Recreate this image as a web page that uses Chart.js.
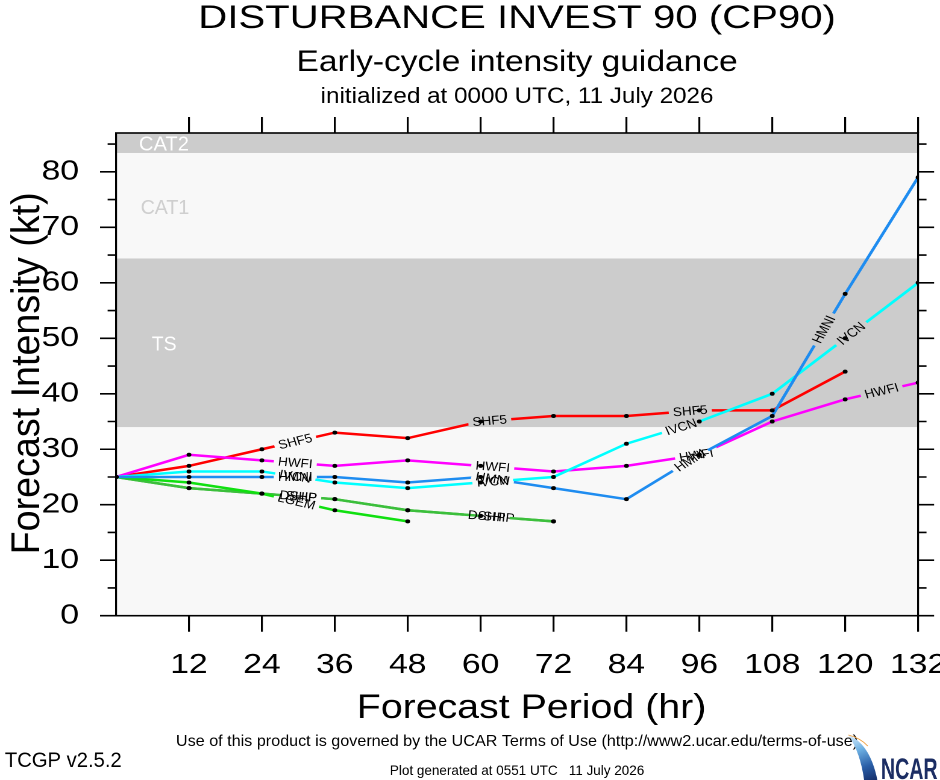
<!DOCTYPE html>
<html><head><meta charset="utf-8">
<script src="https://cdn.jsdelivr.net/npm/chart.js@4/dist/chart.umd.min.js"></script>
<style>
html,body{margin:0;padding:0;background:#fff;overflow:hidden}
#wrap{width:780px;height:780px;transform:scaleX(1.205128);transform-origin:0 0;}
canvas{display:block}
</style></head><body>
<div id="wrap"><canvas id="c" width="780" height="780"></canvas></div>
<script>
// ---------------- DATA ----------------
const hours = [0, 12, 24, 36, 48, 60, 72, 84, 96, 108, 120, 132];
const SHF5 = [25, 27, 30, 33, 32, 35, 36, 36, 37, 37, 44, null];
const HWFI = [25, 29, 28, 27, 28, 27, 26, 27, 29, 35, 39, 42];
const IVCN = [25, 26, 26, 24, 23, 24, 25, 31, 35, 40, 50, 60];
const HMNI = [25, 25, 25, 25, 24, 25, 23, 21, 29, 36, 58, 79];
const DSHP = [25, 23, 22, 21, 19, 18, 17, null, null, null, null, null];
const SHIP = [25, 23, 22, 21, 19, 18, 17, null, null, null, null, null];
const LGEM = [25, 24, 22, 19, 17, null, null, null, null, null, null, null];
// forecast hours where each model's name is written along its line
const SHF5_labelHrs = [29.5, 61.5, 94.5];
const HWFI_labelHrs = [29.5, 62, 95.5, 126];
const IVCN_labelHrs = [29.5, 62, 93, 121];
const HMNI_labelHrs = [29.5, 62, 94.5, 116.5];
const DSHP_labelHrs = [30, 61];
const SHIP_labelHrs = [30.5, 63];
const LGEM_labelHrs = [29.7];
const xTickLabels = [12, 24, 36, 48, 60, 72, 84, 96, 108, 120, 132];
const yTickLabels = [0, 10, 20, 30, 40, 50, 60, 70, 80];
const yMinorTicks = [5, 15, 25, 35, 45, 55, 65, 75, 85];
const TS_MIN = 34, CAT1_MIN = 64.4, CAT2_MIN = 83.4;
const TITLE = 'DISTURBANCE INVEST 90 (CP90)';
const SUBTITLE = 'Early-cycle intensity guidance';
const INIT_LINE = 'initialized at 0000 UTC, 11 July 2026';
const X_TITLE = 'Forecast Period (hr)';
const Y_TITLE = 'Forecast Intensity (kt)';

// ---------------- STYLE ----------------
const FONT = '"Liberation Sans", Arial, Helvetica, sans-serif';
const NARROW = '"Liberation Sans Narrow", "Arial Narrow", "Liberation Sans", sans-serif';
const series = [
  {name:'SHIP', values:SHIP, color:'#3cbf3c', labels:SHIP_labelHrs, order:7},
  {name:'DSHP', values:DSHP, color:'#3cbf3c', labels:DSHP_labelHrs, order:6},
  {name:'LGEM', values:LGEM, color:'#10e010', labels:LGEM_labelHrs, order:5},
  {name:'SHF5', values:SHF5, color:'#ff0000', labels:SHF5_labelHrs, order:4},
  {name:'HWFI', values:HWFI, color:'#ff00ff', labels:HWFI_labelHrs, order:3},
  {name:'IVCN', values:IVCN, color:'#00ffff', labels:IVCN_labelHrs, order:2},
  {name:'HMNI', values:HMNI, color:'#1e8cf0', labels:HMNI_labelHrs, order:1},
];
const toXY = vals => hours.map((h, i) => ({x: h, y: vals[i]})).filter(p => p.y !== null);

const datasets = [];
series.forEach((s, i) => {
  datasets.push({type:'line', label:s.name, data:toXY(s.values), borderColor:s.color,
    borderWidth:2.5, pointRadius:0, tension:0, fill:false, order:s.order,
    _series:i, _kind:'line'});
});
series.forEach((s, i) => {
  datasets.push({type:'line', label:s.name + ' pts', data:toXY(s.values), showLine:false,
    pointRadius:2, pointBackgroundColor:'#000', pointBorderWidth:0, order:0, _kind:'pts'});
});

const LABEL_SIZE = 12.5, LABEL_SX = 0.9;
function labelGeom(chart, s, h) {
  const xs = chart.scales.x, ys = chart.scales.y;
  for (let i = 0; i < hours.length - 1; i++) {
    const a = s.values[i], b = s.values[i + 1];
    if (a == null || b == null) continue;
    if (h >= hours[i] && h <= hours[i + 1]) {
      const t = (h - hours[i]) / (hours[i + 1] - hours[i]);
      const x0 = xs.getPixelForValue(hours[i]), y0 = ys.getPixelForValue(a);
      const x1 = xs.getPixelForValue(hours[i + 1]), y1 = ys.getPixelForValue(b);
      return {x: x0 + (x1 - x0) * t, y: y0 + (y1 - y0) * t, ang: Math.atan2(y1 - y0, x1 - x0)};
    }
  }
  return null;
}

function fitText(ctx, text, x, y, size, width, align, family, color, weight) {
  ctx.save();
  ctx.font = (weight ? weight + ' ' : '') + size + 'px ' + family;
  ctx.fillStyle = color || '#000';
  const w = ctx.measureText(text).width;
  ctx.translate(x, y);
  ctx.scale(width / w, 1);
  ctx.textAlign = align;
  ctx.textBaseline = 'alphabetic';
  ctx.fillText(text, 0, 0);
  ctx.restore();
}

const lineLabels = {
  id: 'lineLabels',
  beforeDatasetDraw(chart, args) {
    const ds = chart.data.datasets[args.index];
    if (ds._kind !== 'line') return;
    const s = series[ds._series];
    const ctx = chart.ctx;
    ctx.save();
    ctx.font = LABEL_SIZE + 'px ' + FONT;
    const hw = ctx.measureText(s.name).width * LABEL_SX / 2 + 3.5, hh = 7;
    ctx.beginPath();
    ctx.rect(0, 0, chart.width, chart.height);
    s.labels.forEach(h => {
      const g = labelGeom(chart, s, h);
      if (!g) return;
      const c = Math.cos(g.ang), sn = Math.sin(g.ang);
      const pts = [[-hw, -hh], [hw, -hh], [hw, hh], [-hw, hh]].map(([u, v]) => [g.x + u * c - v * sn, g.y + u * sn + v * c]);
      ctx.moveTo(pts[0][0], pts[0][1]);
      for (let k = 1; k < 4; k++) ctx.lineTo(pts[k][0], pts[k][1]);
      ctx.closePath();
    });
    ctx.clip('evenodd');
  },
  afterDatasetDraw(chart, args) {
    const ds = chart.data.datasets[args.index];
    if (ds._kind !== 'line') return;
    const ctx = chart.ctx;
    ctx.restore();
    const s = series[ds._series];
    ctx.save();
    ctx.font = LABEL_SIZE + 'px ' + FONT;
    ctx.fillStyle = '#000';
    ctx.textAlign = 'center';
    ctx.textBaseline = 'middle';
    s.labels.forEach(h => {
      const g = labelGeom(chart, s, h);
      if (!g) return;
      ctx.save();
      ctx.translate(g.x, g.y);
      ctx.rotate(g.ang);
      ctx.scale(LABEL_SX, 1);
      ctx.fillText(s.name, 0, 0.5);
      ctx.restore();
    });
    ctx.restore();
  }
};

const bandsAndFrame = {
  id: 'bandsAndFrame',
  beforeDatasetsDraw(chart) {
    const {ctx, chartArea: a} = chart;
    const ys = chart.scales.y;
    const band = (lo, hi, col) => {
      const y1 = ys.getPixelForValue(Math.min(hi, ys.max)), y0 = ys.getPixelForValue(lo);
      ctx.fillStyle = col;
      ctx.fillRect(a.left, y1, a.right - a.left, y0 - y1);
    };
    ctx.save();
    band(ys.min, TS_MIN, '#f8f8f8');
    band(TS_MIN, CAT1_MIN, '#cccccc');
    band(CAT1_MIN, CAT2_MIN, '#f8f8f8');
    band(CAT2_MIN, ys.max, '#cccccc');
    fitText(ctx, 'CAT2', a.left + 19, 150.7, 20, 41.5, 'left', NARROW, '#ffffff');
    fitText(ctx, 'CAT1', a.left + 20.4, 214, 20, 40.3, 'left', NARROW, '#cfcfcf');
    fitText(ctx, 'TS', a.left + 29.6, 350.7, 20, 20.7, 'left', NARROW, '#ffffff');
    ctx.restore();
  },
  afterDraw(chart) {
    const {ctx, chartArea: a} = chart;
    const xs = chart.scales.x, ys = chart.scales.y;
    ctx.save();
    ctx.strokeStyle = '#000';
    ctx.lineWidth = 1.6;
    ctx.strokeRect(a.left, a.top, a.right - a.left, a.bottom - a.top);
    ctx.beginPath();
    const MAJ_H = 13.3, MIN_H = 7, MAJ_V = 16;
    yTickLabels.forEach(v => {
      const y = ys.getPixelForValue(v);
      ctx.moveTo(a.left - MAJ_H, y); ctx.lineTo(a.left, y);
      ctx.moveTo(a.right, y); ctx.lineTo(a.right + MAJ_H, y);
    });
    yMinorTicks.forEach(v => {
      const y = ys.getPixelForValue(v);
      ctx.moveTo(a.left - MIN_H, y); ctx.lineTo(a.left, y);
      ctx.moveTo(a.right, y); ctx.lineTo(a.right + MIN_H, y);
    });
    xTickLabels.forEach(v => {
      const x = xs.getPixelForValue(v);
      ctx.moveTo(x, a.bottom); ctx.lineTo(x, a.bottom + MAJ_V);
      ctx.moveTo(x, a.top); ctx.lineTo(x, a.top - MAJ_V);
    });
    ctx.stroke();
    ctx.restore();

    // header
    const cx = (a.left + a.right) / 2;
    fitText(ctx, TITLE, cx, 28, 32, 529, 'center', FONT, '#000');
    fitText(ctx, SUBTITLE, cx, 71, 30, 366, 'center', FONT, '#000');
    fitText(ctx, INIT_LINE, cx, 103, 22, 326, 'center', FONT, '#000');
    // axis titles
    fitText(ctx, X_TITLE, cx + 12, 718, 34, 290, 'center', FONT, '#000');
    ctx.save();
    ctx.translate(32.4, (a.top + a.bottom) / 2 - 1);
    ctx.rotate(-Math.PI / 2);
    fitText(ctx, Y_TITLE, 0, 0, 33, 362, 'center', FONT, '#000');
    ctx.restore();
    // footer
    fitText(ctx, 'Use of this product is governed by the UCAR Terms of Use (http://www2.ucar.edu/terms-of-use)', cx, 746, 16, 566, 'center', NARROW, '#000');
    fitText(ctx, 'TCGP v2.5.2', 4, 767, 21, 97, 'left', NARROW, '#000');
    fitText(ctx, 'Plot generated at 0551 UTC   11 July 2026', cx, 775, 14, 211, 'center', NARROW, '#000');
    // NCAR logo
    ctx.save();
    const g = ctx.createLinearGradient(704, 734, 726, 780);
    g.addColorStop(0, '#e4f1fb');
    g.addColorStop(0.35, '#6fb2e4');
    g.addColorStop(0.7, '#2a5fa8');
    g.addColorStop(1, '#15306c');
    ctx.fillStyle = g;
    ctx.beginPath();
    ctx.moveTo(704, 735);
    ctx.quadraticCurveTo(722, 744, 728, 780);
    ctx.lineTo(717, 780);
    ctx.quadraticCurveTo(714, 753, 704, 735);
    ctx.closePath();
    ctx.fill();
    ctx.strokeStyle = '#f0a040';
    ctx.lineWidth = 0.8;
    ctx.beginPath();
    ctx.moveTo(704, 735);
    ctx.quadraticCurveTo(714, 738, 720, 746);
    ctx.stroke();
    ctx.restore();
    fitText(ctx, 'NCAR', 731, 779, 30, 47, 'left', NARROW, '#1b2d63', 'bold');
  }
};

new Chart(document.getElementById('c'), {
  type: 'line',
  data: {datasets},
  options: {
    responsive: false,
    devicePixelRatio: 2,
    animation: false,
    events: [],
    layout: {autoPadding: false, padding: {top: 133, right: 18.2, left: 0, bottom: 0}},
    plugins: {legend: {display: false}, tooltip: {enabled: false}, title: {display: false}},
    scales: {
      x: {
        type: 'linear', position: 'bottom', min: 0, max: 132,
        afterBuildTicks: s => { s.ticks = xTickLabels.map(v => ({value: v})); },
        afterFit: s => { s.height = 164.3; s.paddingLeft = 0; s.paddingRight = 0; },
        grid: {display: false, drawTicks: false},
        border: {display: false},
        ticks: {font: {size: 28, family: FONT}, color: '#000', padding: 33, maxRotation: 0, autoSkip: false},
        title: {display: false}
      },
      y: {
        type: 'linear', position: 'left', min: 0, max: 87,
        afterBuildTicks: s => { s.ticks = yTickLabels.map(v => ({value: v})); },
        afterFit: s => { s.width = 96.3; s.paddingTop = 0; s.paddingBottom = 0; },
        grid: {display: false, drawTicks: false},
        border: {display: false},
        ticks: {font: {size: 28, family: FONT}, color: '#000', padding: 30.7, autoSkip: false},
        title: {display: false}
      }
    }
  },
  plugins: [bandsAndFrame, lineLabels]
});
</script>
</body></html>
